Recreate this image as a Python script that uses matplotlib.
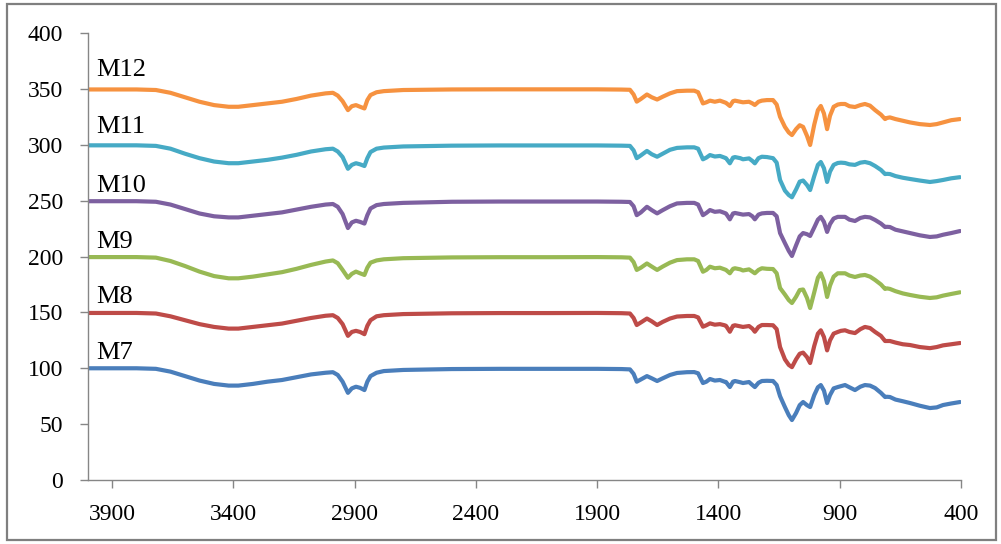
import matplotlib
matplotlib.use("Agg")
import matplotlib.pyplot as plt
from matplotlib.patches import Rectangle

plt.rcParams['font.family'] = ['Liberation Serif', 'DejaVu Serif']

wavenumber = [4000, 3900, 3800, 3720, 3660, 3600, 3540, 3480, 3420, 3380, 3320, 3260, 3200, 3140,
              3080, 3020, 2990, 2970, 2950, 2928, 2912, 2895, 2878, 2860, 2848, 2835, 2810, 2780,
              2700, 2500, 2300, 2100, 1900, 1800, 1765, 1750, 1737, 1720, 1695, 1675, 1653, 1630,
              1600, 1571, 1530, 1500, 1484, 1464, 1450, 1435, 1415, 1394, 1375, 1369, 1353, 1340,
              1332, 1310, 1299, 1274, 1260, 1250, 1235, 1221, 1200, 1175, 1160,
              1146, 1126, 1110, 1097, 1080, 1065, 1051, 1035, 1022, 1005, 990, 978, 965, 952, 940,
              925, 908, 895, 878, 860, 837, 815, 796, 775, 754, 730, 713, 705, 693, 670, 640, 610,
              570, 528, 500, 474, 440, 404]

M7 = [100, 100, 100, 99.5, 97, 93, 89, 86, 84.5, 84.5, 86, 88, 89.5, 92,
      94.5, 96, 96.5, 94, 88, 78, 82, 83.5, 82.5, 80.5, 88, 93, 96, 97.5,
      98.5, 99.3, 99.5, 99.5, 99.5, 99.3, 99, 95, 88, 90, 93, 91, 88.6, 91,
      94, 95.8, 96.5, 96.6, 95.5, 86.8, 88, 90.4, 89, 89.5, 88, 87.7, 83.2, 88,
      88.6, 87.5, 86.8, 87.7, 85, 83.2, 87, 88.6, 88.8, 88.6, 85,
      75, 65.3, 58, 53.7, 60, 67, 69.8, 67, 65.3, 76, 83, 85, 80, 68.9, 76,
      82, 83.2, 84, 85, 83, 80.5, 83.5, 85, 84.5, 82.3, 78, 74.3, 74.5, 74.3, 72, 70.5, 68.9,
      66.5, 64.4, 65, 67.1, 68.5, 69.8]

M8 = [149.5, 149.5, 149.5, 149, 146.5, 143, 139.5, 137, 135.5, 135.5, 137, 138.5, 140, 142.5,
      145, 147, 147.5, 145, 139.5, 129, 132.5, 133.5, 132.5, 130.5, 138, 143, 146.5, 147.5,
      148.5, 149.2, 149.4, 149.4, 149.5, 149.3, 149, 145, 138.7, 141, 144.5, 142, 138.7, 141.5,
      144.5, 146.3, 146.8, 146.8, 145.5, 137.2, 138.5, 140.2, 139, 139.5, 138.5, 138, 132.7, 138,
      138.5, 137.5, 137, 137.8, 135.5, 132.7, 137, 138.7, 138.7, 138.5, 135,
      119, 108, 103, 101, 108, 113, 114, 110, 104.7, 120, 131, 134, 128, 116, 125,
      131, 132.5, 133.5, 134, 132.5, 131.5, 135, 137, 136, 132.5, 129, 124.4, 124.4, 124.4, 123, 121.5, 120.8,
      119, 118, 119, 120.5, 121.5, 122.6]

M9 = [199.5, 199.5, 199.5, 199, 196, 191.5, 186.5, 182.5, 180.5, 180.5, 182, 184, 186, 189,
      192.5, 195.5, 196.5, 194, 188, 181, 184.5, 186.5, 185, 183.5, 190, 194.5, 196.5, 197.5,
      198.5, 199.2, 199.4, 199.4, 199.5, 199.3, 199, 195, 188, 190, 193.8, 191, 188, 191,
      194.5, 196.8, 197.5, 197.5, 196, 186.4, 188, 190.9, 189.5, 190, 188.5, 188, 185, 189,
      189.5, 188.5, 187.5, 188.5, 186.5, 185, 188, 189.5, 189, 188.8, 185,
      171.8, 166, 161, 158.4, 164, 170, 170.5, 163, 153.9, 168, 181, 185, 178, 163.8, 174,
      182, 185, 185, 185, 183, 181.7, 183, 183.5, 182, 179, 175, 171, 171.5, 171, 169, 167, 165.6,
      164, 162.9, 163.5, 165, 166.5, 168]

M10 = [249.5, 249.5, 249.5, 249, 246.5, 242.5, 238.5, 236, 235, 235, 236.5, 238, 239.5, 242,
       244.5, 246.5, 247, 244.5, 238, 225.5, 230.5, 232, 231, 229.5, 237, 243, 246, 247,
       248, 249, 249.2, 249.2, 249.2, 249, 248.8, 245, 237, 239.5, 244.5, 241.5, 238.6, 241.5,
       245, 247.5, 248, 248, 246.5, 237, 239, 241.6, 240, 240.5, 239, 238.5, 233.3, 238.5,
       239, 238, 237.5, 238, 236, 233.3, 237.5, 238.6, 239, 239, 236,
       221, 212, 205, 200.5, 210, 218, 221, 220, 218.4, 226, 233, 235.5, 231, 222, 229,
       234, 235.5, 235.5, 235.5, 233, 231.8, 234.5, 235.5, 235, 232.7, 229.5, 226.4, 226.6, 226.4, 224, 222.5, 221,
       219, 217.5, 218, 219.5, 221, 222.8]

M11 = [299.5, 299.5, 299.5, 299, 296.5, 292, 288, 285, 283.5, 283.5, 285, 286.5, 288.5, 291,
       294, 296, 296.5, 294, 289, 278.5, 282, 283.5, 282.5, 281, 288, 293.5, 296.5, 297.5,
       298.5, 299.2, 299.4, 299.4, 299.4, 299.2, 299, 295, 288, 290.5, 294.5, 291.5, 289.3, 292,
       295.5, 297.2, 297.7, 297.7, 296.5, 287, 288.5, 290.8, 289.5, 290, 288.5, 288, 283.4, 288.5,
       289, 288, 287, 287.8, 285.5, 283.4, 288, 289.3, 289, 288, 284,
       268.5, 259, 255, 253, 260, 267, 268, 264, 259.5, 272, 282, 284.6, 279, 266.7, 276,
       282, 283.7, 284, 283.7, 282.5, 282, 284, 284.6, 283.5, 281, 277.5, 273.8, 274, 273.8, 272, 270.5, 269.4,
       268, 266.7, 267.5, 268.5, 270, 271]

M12 = [349.5, 349.5, 349.5, 349, 346.5, 342.5, 338.5, 335.5, 334, 334, 335.5, 337, 338.5, 341,
       344, 346, 346.5, 344, 339, 331, 334.5, 335.5, 334, 332.5, 340, 344.5, 347, 348,
       349, 349.5, 349.6, 349.6, 349.6, 349.4, 349.2, 345, 338.6, 341, 345, 342.5, 340.5, 343,
       346, 348, 348.4, 348.4, 347, 337, 338, 339.5, 338.5, 339.5, 338, 337.5, 334.7, 339,
       339.5, 338.5, 338, 338.5, 337, 335.6, 338.5, 339.5, 340, 340, 336,
       325, 316, 311, 308.7, 314, 317.5, 316, 308, 299.8, 318, 331, 334.7, 328, 314, 326,
       334, 336, 336.5, 336.5, 334.5, 333.8, 335.5, 336.5, 335, 331, 327, 323, 324, 324.5, 323, 321.5, 320,
       318.5, 317.7, 318.5, 320, 322, 323]

series_names = ["M7", "M8", "M9", "M10", "M11", "M12"]
series_values = [M7, M8, M9, M10, M11, M12]
colors = ["#4A7EBB", "#BE4B48", "#98B954", "#7D60A0", "#46AAC5", "#F69240"]
label_y = [114, 164, 213, 263, 316, 367]

x_ticks = [3900, 3400, 2900, 2400, 1900, 1400, 900, 400]
y_ticks = [0, 50, 100, 150, 200, 250, 300, 350, 400]

fig = plt.figure(figsize=(10.01, 5.44), dpi=100)
ax = fig.add_axes([0.0879, 0.1176, 0.8721, 0.8217])

for name, vals, c, ly in zip(series_names, series_values, colors, label_y):
    ax.plot(wavenumber, vals, color=c, lw=3.0, solid_joinstyle='round', solid_capstyle='round')
    ax.text(3965, ly, name, fontsize=19, va='center', ha='left', color='black')

ax.set_xlim(4000, 400)
ax.set_ylim(0, 400)
ax.set_xticks(x_ticks)
ax.set_xticklabels([str(t) for t in x_ticks])
ax.set_yticks(y_ticks)
ax.set_yticklabels([str(t) for t in y_ticks])

for s in ['top', 'right']:
    ax.spines[s].set_visible(False)
for s in ['left', 'bottom']:
    ax.spines[s].set_color('#868686')
    ax.spines[s].set_linewidth(1.0)
ax.tick_params(axis='both', direction='out', length=6, color='#868686', width=1.0,
               labelsize=17, labelcolor='black')
ax.tick_params(axis='x', pad=11)
ax.tick_params(axis='y', pad=12)

fig.patches.append(Rectangle((7 / 1001, 4 / 544), 989 / 1001, 536 / 544, transform=fig.transFigure,
                             fill=False, edgecolor='#7f7f7f', lw=1.6))

fig.savefig("out.png", dpi=100)
